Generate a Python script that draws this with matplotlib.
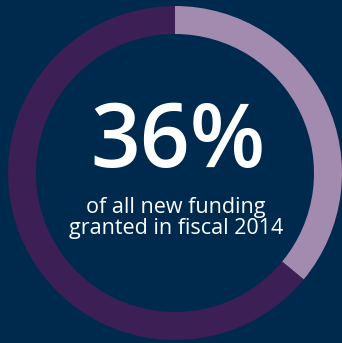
import matplotlib
matplotlib.use("Agg")
import matplotlib.pyplot as plt

# share of new funding vs. the rest
labels = ["fiscal 2014 new funding", "other"]
shares = [36, 64]
colors = ["#a38bb0", "#3b1f55"]
headline = "36%"
caption = "of all new funding\ngranted in fiscal 2014"

bg = "#002a4d"

fig = plt.figure(figsize=(3.42, 3.43), dpi=100, facecolor=bg)
ax = fig.add_axes([0, 0, 1, 1])
ax.set_facecolor(bg)

ax.pie(shares, colors=colors, startangle=90, counterclock=False,
       center=(175, 170), radius=167,
       wedgeprops=dict(width=28, linewidth=0))

ax.set_xlim(0, 342)
ax.set_ylim(0, 343)
ax.set_aspect("equal")
ax.axis("off")

ax.text(178, 199, headline, ha="center", va="center", color="white",
        fontsize=63, family="Open Sans", fontweight="semibold")
ax.text(176, 125, caption, ha="center", va="center", color="white",
        fontsize=15.5, family="Open Sans", linespacing=0.95)

fig.savefig("out.png", dpi=100, facecolor=bg)
